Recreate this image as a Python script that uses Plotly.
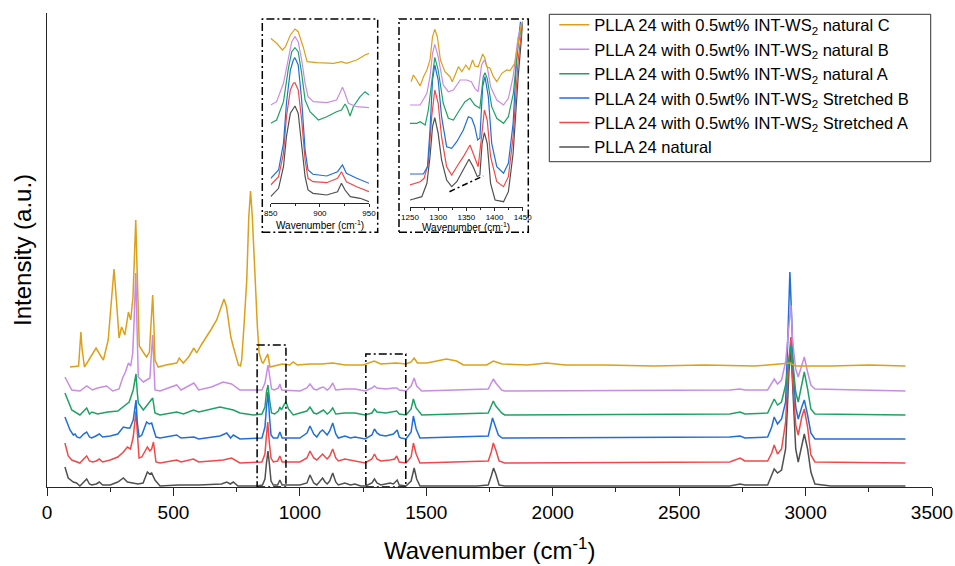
import plotly.graph_objects as go

FONT = "Arial, 'Liberation Sans', Helvetica, sans-serif"

# ---------------- data ----------------
series_names = [
    "PLLA 24 natural",
    "PLLA 24 with 0.5wt% INT-WS<sub>2</sub> Stretched A",
    "PLLA 24 with 0.5wt% INT-WS<sub>2</sub> Stretched B",
    "PLLA 24 with 0.5wt% INT-WS<sub>2</sub> natural A",
    "PLLA 24 with 0.5wt% INT-WS<sub>2</sub> natural B",
    "PLLA 24 with 0.5wt% INT-WS<sub>2</sub> natural C",
]
series_colors = ["#505050", "#F24848", "#1F6FDA", "#1EA263", "#C98BE6", "#DDA016"]

# main spectra: (wavenumber, stacked intensity a.u.)
natural_main = [(71,20),(84,9),(104,5),(117,4),(130,1),(145,5),(157,8),(168,3),(177,2),(195,3),(207,5),(220,2),(250,2),(280,5),(302,9),(318,5),(335,4),(360,3),(380,4),(397,15),(406,13),(414,14),(427,7),(447,1),(520,2),(600,2),(690,3),(711,5),(725,3),(737,5),(755,1),(830,1),(852,2),(862,8),(868,24),(874,36),(880,22),(886,6),(895,2),(912,2),(921,7),(930,2),(1000,2),(1028,4),(1040,12),(1055,4),(1067,2),(1080,6),(1090,9),(1100,5),(1108,3),(1118,6),(1130,14),(1142,5),(1152,2),(1178,4),(1200,2),(1218,3),(1240,1),(1260,1),(1285,4),(1295,8),(1305,4),(1320,2),(1345,3),(1357,4),(1370,3),(1378,5),(1385,7),(1393,2),(1420,1),(1440,6),(1452,19),(1462,8),(1475,1),(1700,1),(1745,2),(1757,11),(1766,19),(1775,13),(1788,2),(1810,1),(2200,1),(2700,1),(2741,3),(2760,2),(2850,2),(2866,11),(2876,18),(2889,14),(2905,17),(2921,38),(2934,115),(2942,138),(2949,98),(2961,38),(2971,25),(2985,43),(2995,53),(3008,38),(3021,15),(3037,3),(3100,1),(3250,1),(3395,1)]
stretchedA_main = [(71,44),(84,31),(98,27),(111,26),(130,24),(145,28),(157,31),(168,26),(180,25),(195,26),(207,28),(220,25),(250,27),(280,30),(302,35),(318,40),(330,38),(341,50),(347,65),(352,76),(357,55),(364,29),(375,30),(381,33),(397,40),(407,36),(414,38),(421,45),(427,35),(431,25),(447,24),(513,27),(530,25),(579,28),(600,25),(697,27),(730,29),(763,24),(850,25),(862,33),(868,52),(873,65),(879,45),(886,29),(895,25),(912,26),(921,31),(930,25),(1000,25),(1028,29),(1040,36),(1055,29),(1067,27),(1080,30),(1090,33),(1100,30),(1108,28),(1118,31),(1130,38),(1142,29),(1152,26),(1178,28),(1218,26),(1258,24),(1285,28),(1295,33),(1305,28),(1320,26),(1357,27),(1375,28),(1383,31),(1393,25),(1420,24),(1440,30),(1449,44),(1460,33),(1475,24),(1745,26),(1757,35),(1765,44),(1775,37),(1788,26),(1810,24),(2700,25),(2741,29),(2760,26),(2850,26),(2866,34),(2876,42),(2889,33),(2905,38),(2921,65),(2934,127),(2942,150),(2949,107),(2961,62),(2971,52),(2985,70),(2995,78),(3008,60),(3021,32),(3037,25),(3395,24)]
stretchedB_main = [(71,70),(91,57),(104,52),(111,53),(118,50),(130,49),(145,53),(157,55),(168,50),(177,49),(193,51),(207,53),(220,50),(250,51),(280,53),(302,60),(318,59),(328,59),(341,67),(347,80),(352,87),(357,65),(364,50),(375,52),(394,65),(404,63),(414,64),(421,58),(431,50),(447,49),(513,52),(530,49),(581,50),(600,48),(684,51),(711,54),(726,49),(737,52),(763,48),(850,49),(862,60),(868,80),(874,95),(880,70),(886,52),(895,49),(912,49),(921,55),(930,49),(1000,49),(1028,54),(1040,61),(1055,53),(1067,50),(1080,55),(1090,57),(1100,54),(1108,52),(1118,56),(1130,64),(1142,53),(1152,49),(1178,51),(1200,49),(1218,50),(1258,48),(1285,52),(1295,58),(1305,54),(1317,52),(1340,51),(1357,52),(1370,53),(1385,57),(1393,50),(1400,49),(1420,48),(1440,55),(1449,71),(1460,58),(1475,49),(1745,51),(1755,60),(1762,69),(1770,63),(1785,52),(1800,49),(2700,50),(2741,51),(2760,49),(2850,50),(2866,60),(2876,70),(2889,63),(2905,68),(2921,85),(2930,150),(2938,215),(2945,170),(2952,115),(2961,80),(2971,68),(2985,80),(2995,87),(3008,72),(3021,54),(3037,48),(3395,48)]
naturalA_main = [(71,94),(98,77),(130,72),(157,79),(168,73),(178,75),(200,73),(240,75),(280,76),(308,82),(325,85),(341,97),(347,108),(352,113),(357,95),(361,84),(381,77),(401,84),(418,89),(427,74),(447,72),(513,75),(540,73),(579,77),(600,75),(684,80),(737,77),(763,74),(816,72),(850,73),(862,80),(868,95),(874,102),(880,88),(888,74),(900,73),(915,76),(921,80),(927,77),(937,82),(945,85),(955,78),(974,72),(1028,76),(1040,80),(1055,74),(1067,73),(1080,75),(1093,77),(1108,73),(1118,75),(1130,79),(1142,73),(1178,74),(1218,74),(1258,72),(1285,74),(1295,78),(1305,75),(1340,74),(1370,75),(1383,76),(1393,73),(1420,72),(1440,78),(1449,88),(1460,79),(1482,72),(1745,74),(1755,80),(1765,86),(1775,81),(1798,74),(1810,72),(2700,73),(2741,75),(2760,73),(2850,74),(2866,82),(2876,88),(2889,82),(2905,85),(2921,102),(2934,130),(2942,142),(2949,125),(2961,95),(2971,85),(2985,105),(2995,115),(3008,98),(3021,78),(3037,73),(3395,72)]
naturalB_main = [(71,110),(98,97),(130,96),(157,101),(180,97),(200,99),(236,101),(260,96),(285,98),(299,109),(310,115),(322,124),(331,121),(339,134),(345,170),(351,214),(356,160),(361,110),(381,105),(398,108),(407,109),(412,130),(418,152),(423,120),(427,97),(447,96),(513,102),(530,97),(581,104),(600,97),(650,100),(697,105),(730,103),(763,97),(850,97),(862,104),(868,115),(874,122),(880,112),(888,98),(900,97),(915,99),(921,103),(928,97),(1000,96),(1028,99),(1040,103),(1055,98),(1067,97),(1080,99),(1093,100),(1108,97),(1118,99),(1130,104),(1142,97),(1178,98),(1218,98),(1258,96),(1285,99),(1295,101),(1305,99),(1340,98),(1370,99),(1383,99),(1393,97),(1420,96),(1440,101),(1452,109),(1462,101),(1482,96),(1745,98),(1755,103),(1765,108),(1775,104),(1798,97),(1810,96),(2700,97),(2741,98),(2760,97),(2850,97),(2866,104),(2876,108),(2889,103),(2905,107),(2921,125),(2934,160),(2942,182),(2949,145),(2961,118),(2971,110),(2985,123),(2995,130),(3008,115),(3021,102),(3037,98),(3395,96)]
naturalC_main = [(91,120),(125,121),(130,140),(134,155),(138,140),(148,120),(163,126),(180,133),(194,139),(210,132),(223,127),(242,147),(255,185),(265,218),(275,185),(285,149),(295,160),(308,152),(322,175),(331,167),(340,190),(345,230),(351,267),(356,220),(361,160),(365,141),(380,135),(394,130),(405,135),(412,165),(418,192),(423,160),(427,127),(440,120),(470,122),(513,124),(523,129),(539,124),(560,130),(581,139),(592,134),(610,142),(631,150),(650,158),(671,167),(690,180),(700,188),(710,180),(717,167),(727,150),(737,140),(750,127),(757,122),(765,121),(770,127),(780,165),(790,207),(798,270),(805,296),(812,270),(823,207),(832,160),(839,134),(850,125),(855,124),(868,130),(873,133),(878,126),(882,120),(930,123),(960,122),(974,125),(990,122),(1040,123),(1086,123),(1130,124),(1180,122),(1250,122),(1294,126),(1320,123),(1380,124),(1420,123),(1440,125),(1452,129),(1465,124),(1502,124),(1540,126),(1580,128),(1620,126),(1647,122),(1700,122),(1739,122),(1765,126),(1800,123),(1900,122),(1976,124),(2050,122),(2200,122),(2400,121),(2600,122),(2800,121),(2940,124),(2960,121),(3100,121),(3250,122),(3395,121)]

# inset 1 (850-950 cm-1)
natural_in1 = [(850,6),(858,14.4),(863,36),(866,66),(870,89.4),(874.7,96.7),(878,89.4),(881.5,59.4),(885,26),(888,12.7),(893,9.4),(907,7.7),(918,11),(922,19.4),(925.6,12.7),(931,6),(941,4.4),(950,1)]
stretchedA_in1 = [(850,17.7),(858,26),(863,49.4),(866,86),(870,112.7),(873,119.4),(874.7,120),(878,112.7),(881.5,82.7),(885,42.7),(888,24.4),(893,21),(907,20),(918,24.4),(922,31),(927,21),(937.5,16),(950,11)]
stretchedB_in1 = [(850,24.4),(858,32.7),(863,59.4),(866,99.4),(870,132.7),(873,142.7),(874.7,145),(878,137.7),(881.5,102.7),(885,52.7),(888,32.7),(893,28.4),(907,26.7),(918,31),(923,37.7),(927,29.4),(937.5,24.4),(950,19.4)]
naturalA_in1 = [(850,79.4),(856,82.7),(863,101),(868,134.4),(871.4,151),(874.7,155),(878,151),(881.5,129.4),(885,102.7),(890,91),(898.5,82.7),(907,86),(917,91),(922,92.7),(925.6,98.7),(928,94.4),(930.7,86.7),(934,96),(941,106),(946,111),(950,107.7)]
naturalB_in1 = [(850,97.7),(856,101),(863,119.4),(868,146),(871.4,161),(874.7,166),(878,161),(881.5,142.7),(885,119.4),(888,106),(893.4,101),(907,100),(917,102.7),(921,111),(923,115.4),(925.6,109.4),(929,99.4),(937.5,96),(950,95)]
naturalC_in1 = [(850,164.4),(856,159.4),(862,152.7),(865,156),(870,167.7),(874.7,173.7),(878,171),(883,156),(887,141),(897,140),(914,139.4),(922,141),(927,139.4),(937.5,142.7),(946,147.7),(950,149.4)]

# inset 2 (1250-1450 cm-1)
natural_in2 = [(1250,6.7),(1271,10),(1280,23.4),(1285.5,50),(1290,80),(1294,89),(1300,73.4),(1306,46.7),(1315,26.7),(1324,20),(1333,25),(1344.7,36.7),(1354.7,47.4),(1362,40),(1369.5,30),(1374,31.7),(1378,63.4),(1382,74),(1387,63.4),(1393,23.4),(1401,6.7),(1416,5),(1424.6,15),(1433,53.4),(1442,130),(1450,183.4)]
stretchedA_in2 = [(1250,21.7),(1268,25),(1275,28.4),(1282.5,43.4),(1288.5,90),(1294,116.7),(1300,103.4),(1306,70),(1315,40),(1324,31.7),(1333,40),(1344.7,50),(1356.5,61.7),(1365,50),(1371,40),(1377,70),(1382,96.7),(1387,86.7),(1393,50),(1404,25),(1416,20),(1424.6,30),(1433,70),(1442,146.7),(1450,185)]
stretchedB_in2 = [(1250,32.7),(1273.7,32.7),(1281,40),(1285.5,76.7),(1290,126.7),(1294,141.7),(1300,126.7),(1306,90),(1315,60),(1324,58.4),(1333,65),(1344.7,76.7),(1353.5,90),(1359.5,88.4),(1365,80),(1370,66.7),(1374,68.4),(1379,120),(1383,130),(1389,110),(1395,63.4),(1404,40),(1416,33.4),(1424.6,43.4),(1433,83.4),(1439,146.7),(1446,185)]
naturalA_in2 = [(1250,83.4),(1262,83.4),(1268,85),(1277,81.7),(1282.5,96.7),(1288.5,126.7),(1294,149.4),(1300,136.7),(1309,103.4),(1318,88.4),(1327,86.7),(1336,95),(1347.6,105),(1356.5,108.4),(1365,101.7),(1374,98.4),(1380,130),(1383,134),(1387,128.4),(1395,100),(1404,88.4),(1416,83.4),(1424.6,90),(1433.4,113.4),(1442,163.4),(1450,185)]
naturalB_in2 = [(1250,101.7),(1268,101.7),(1280,113.4),(1285.5,130),(1290,153.4),(1294,162.4),(1300,150),(1309,121.7),(1318,115),(1327,116.7),(1339,126.7),(1350.6,126.7),(1359,125),(1365,118.4),(1371,115),(1377,141.7),(1382,146.7),(1387,140),(1393,120),(1404,106.7),(1416,101.7),(1424.6,108.4),(1433,130),(1442,170),(1450,185)]
naturalC_in2 = [(1252,125),(1256,131.7),(1262,126.7),(1268,120.7),(1274,130),(1280,136.7),(1285.5,146.7),(1290,170),(1294,177.4),(1298.5,170),(1304,146.7),(1312,135),(1321,130),(1325,125),(1330,131.7),(1336,140),(1342,135),(1349,141.7),(1355,136.7),(1361,146.7),(1365,140.7),(1371,140),(1379,152.7),(1383,148.4),(1386,140),(1392,138.4),(1398,130),(1404,125),(1413,133.4),(1421.6,136.7),(1427.5,136),(1436,143.4),(1442,163.4),(1448,183.4),(1451,185)]

main_data = [natural_main, stretchedA_main, stretchedB_main, naturalA_main, naturalB_main, naturalC_main]
inset1_data = [natural_in1, stretchedA_in1, stretchedB_in1, naturalA_in1, naturalB_in1, naturalC_in1]
inset2_data = [natural_in2, stretchedA_in2, stretchedB_in2, naturalA_in2, naturalB_in2, naturalC_in2]

# zoom boxes on the main plot (cm-1 range, height)
zoom_box1 = (831, 945, 142)
zoom_box2 = (1261, 1419, 133)
baseline_mark = (1320, 15, 1380, 30.7)

main_ticks = [0, 500, 1000, 1500, 2000, 2500, 3000, 3500]

# ---------------- layout helpers ----------------
W, H = 955, 566
L, R, T, B = 47, 23, 13, 79
PW, PH = W - L - R, H - T - B


def fx(px):
    return (px - L) / PW


def fy(py):
    return (H - B - py) / PH


fig = go.Figure()

for name, color, pts in zip(series_names, series_colors, main_data):
    fig.add_trace(go.Scatter(x=[p[0] for p in pts], y=[p[1] for p in pts], mode="lines",
                             name=name, line=dict(color=color, width=1.5),
                             xaxis="x", yaxis="y"))
for color, pts in zip(series_colors, inset1_data):
    fig.add_trace(go.Scatter(x=[p[0] for p in pts], y=[p[1] for p in pts], mode="lines",
                             showlegend=False, line=dict(color=color, width=1.2),
                             xaxis="x2", yaxis="y2"))
for color, pts in zip(series_colors, inset2_data):
    fig.add_trace(go.Scatter(x=[p[0] for p in pts], y=[p[1] for p in pts], mode="lines",
                             showlegend=False, line=dict(color=color, width=1.2),
                             xaxis="x3", yaxis="y3"))

AX = "#262626"
DASH = "8px,3px,2px,3px"

shapes = []
for (x0, x1, h) in (zoom_box1, zoom_box2):
    shapes.append(dict(type="rect", xref="x", yref="y", x0=x0, x1=x1, y0=0, y1=h,
                       line=dict(color="black", width=1.5, dash=DASH)))
# inset frames
shapes.append(dict(type="rect", xref="paper", yref="paper", x0=fx(262.3), x1=fx(377.7),
                   y0=fy(232.3), y1=fy(19), line=dict(color="black", width=1.5, dash=DASH)))
shapes.append(dict(type="rect", xref="paper", yref="paper", x0=fx(399), x1=fx(528.3),
                   y0=fy(232.3), y1=fy(19), line=dict(color="black", width=1.5, dash=DASH)))
shapes.append(dict(type="line", xref="x3", yref="y3", x0=baseline_mark[0], y0=baseline_mark[1],
                   x1=baseline_mark[2], y1=baseline_mark[3],
                   line=dict(color="black", width=1.5, dash="6px,3px,2px,3px")))
# legend frame
shapes.append(dict(type="rect", xref="paper", yref="paper", x0=fx(549.3), x1=fx(930.7),
                   y0=fy(161.7), y1=fy(14.3), line=dict(color="#333333", width=1),
                   fillcolor="white", layer="below"))

annotations = [
    dict(text="Wavenumber (cm<sup>-1</sup>)", xref="paper", yref="paper", x=0.5, y=fy(549),
         xanchor="center", yanchor="middle", showarrow=False, font=dict(size=24, color="black", family=FONT)),
    dict(text="Intensity (a.u.)", xref="paper", yref="paper", x=fx(22), y=0.5, textangle=-90,
         xanchor="center", yanchor="middle", showarrow=False, font=dict(size=24, color="black", family=FONT)),
    dict(text="Wavenumber (cm<sup>-1</sup>)", xref="paper", yref="paper", x=fx(320), y=fy(224.5),
         xanchor="center", yanchor="middle", showarrow=False, font=dict(size=10, color="black", family=FONT)),
    dict(text="Wavenumber (cm<sup>-1</sup>)", xref="paper", yref="paper", x=fx(466), y=fy(226.5),
         xanchor="center", yanchor="middle", showarrow=False, font=dict(size=10, color="black", family=FONT)),
]

inset_axis = dict(showline=True, linecolor=AX, linewidth=1, ticks="outside", ticklen=3,
                  tickwidth=1, tickcolor=AX, showgrid=False, zeroline=False,
                  tickfont=dict(size=8, color="black", family=FONT),
                  minor=dict(ticks="outside", ticklen=2, tickcolor=AX, dtick=25, showgrid=False))

fig.update_layout(
    width=W, height=H,
    margin=dict(l=L, r=R, t=T, b=B, autoexpand=False),
    paper_bgcolor="white", plot_bgcolor="white",
    font=dict(family=FONT, color="black"),
    showlegend=True,
    legend=dict(x=fx(554.3), y=fy(7.5), xanchor="left", yanchor="top",
                traceorder="reversed", borderwidth=0,
                bgcolor="rgba(0,0,0,0)", font=dict(size=16.5, color="black", family=FONT),
                tracegroupgap=0, itemwidth=30),
    xaxis=dict(domain=[0, 1], range=[0, 3500], tickvals=main_ticks, showline=True,
               linecolor=AX, linewidth=1.4, ticks="outside", ticklen=8, tickwidth=1.4,
               tickcolor=AX, showgrid=False, zeroline=False,
               tickfont=dict(size=19, color="black", family=FONT),
               minor=dict(ticks="outside", ticklen=4, tickwidth=1.2, tickcolor=AX,
                          dtick=250, tick0=0, showgrid=False)),
    yaxis=dict(domain=[0, 1], range=[0, PH], showline=True, linecolor=AX, linewidth=1.4,
               ticks="", showticklabels=False, showgrid=False, zeroline=False),
    xaxis2=dict(domain=[fx(270.7), fx(369)], range=[850, 950], anchor="y2",
                tickvals=[850, 900, 950], **inset_axis),
    yaxis2=dict(domain=[fy(202.7), fy(21)], range=[0, 202.7 - 21], anchor="x2", visible=False),
    xaxis3=dict(domain=[fx(410), fx(522.7)], range=[1250, 1450], anchor="y3",
                tickvals=[1250, 1300, 1350, 1400, 1450], **inset_axis),
    yaxis3=dict(domain=[fy(206.7), fy(21)], range=[0, 206.7 - 21], anchor="x3", visible=False),
    shapes=shapes,
    annotations=annotations,
)

fig.write_html("out.html", config={"displayModeBar": False},
               post_script="document.body.style.margin='0';document.body.style.overflow='hidden';")
